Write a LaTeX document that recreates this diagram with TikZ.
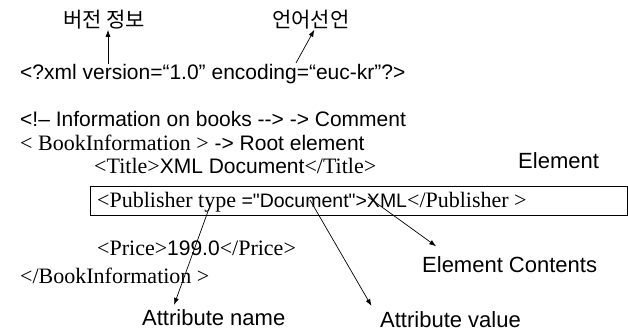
\documentclass[tikz,border=0pt]{standalone}
\usepackage{fontspec}
\newfontfamily\gulim{Liberation Sans}
\newfontfamily\batang{Liberation Serif}
\newfontfamily\hangulfont{Noto Sans CJK KR}
\usetikzlibrary{arrows.meta,positioning}
\tikzstyle{codeline}=[
	anchor=base west,
	inner sep=0pt,
	font=\gulim\fontsize{21}{25}\selectfont
]
\tikzstyle{remark}=[
	anchor=base west,
	inner sep=0pt,
	font=\gulim\fontsize{22}{26}\selectfont
]
\tikzstyle{hangul}=[
	anchor=base west,
	inner sep=0pt,
	font=\hangulfont\fontsize{21}{25}\selectfont
]
\tikzstyle{pointer}=[
	->,
	>={Latex[length=7pt,width=5pt]},
	shorten >=1pt,
	line width=0.7pt
]
\newcommand{\serif}[1]{{\batang\fontsize{22}{26}\selectfont #1}}
\begin{document}
\begin{tikzpicture}[x=1pt,y=-1pt]
\useasboundingbox (0,0) rectangle (628,332);
\node [hangul] (VerInfo) at (63,27) {버전 정보};
\node [hangul] (LangDecl) at (272,27) {언어선언};
\node [codeline] (XmlDecl) at (20,79) {<?xml version=“1.0” encoding=“euc-kr”?>};
\node [codeline] (Comment) at (20,126) {<!– Information on books --> -> Comment};
\node [codeline] (RootElem) at (20,150) {\serif{< BookInformation >} -> Root element};
\node [codeline] (TitleLine) at (94,173) {\serif{<Title>}XML Document\serif{</Title>}};
\node [draw, line width=0.7pt, minimum width=537pt, minimum height=29pt, anchor=north west] (PubBox) at (90,186) {};
\node [codeline, font=\gulim\fontsize{19.5}{24}\selectfont] (PubLine) at (97,207) {\serif{<Publisher type} ="Document">XML\serif{</Publisher >}};
\node [codeline] (PriceLine) at (97,255) {\serif{<Price>}199.0\serif{</Price>}};
\node [codeline] (EndRoot) at (20,283) {\serif{</BookInformation >}};
\node [remark] (Elem) at (518,168) {Element};
\node [remark] (ElemContents) at (422,272) {Element Contents};
\node [remark] (AttrName) at (142,325) {Attribute name};
\node [remark] (AttrValue) at (380,327) {Attribute value};
% tails of the arrows
\coordinate (verTail) at (108,64);
\coordinate (encTail) at (296,63);
\coordinate (typeTail) at (211,203);
\coordinate (docTail) at (310,200);
\coordinate (xmlTail) at (368,197);
\draw [pointer] (verTail) -- (verTail |- VerInfo.south);
\draw [pointer] (encTail) -- ([xshift=4pt]LangDecl.south);
\draw [pointer] (typeTail) -- ([xshift=-40pt,yshift=3pt]AttrName.north);
\draw [pointer] (docTail) -- ([xshift=-8pt,yshift=4pt]AttrValue.north west);
\draw [pointer] (xmlTail) -- ([xshift=15pt,yshift=9pt]ElemContents.north west);
\end{tikzpicture}
\end{document}
